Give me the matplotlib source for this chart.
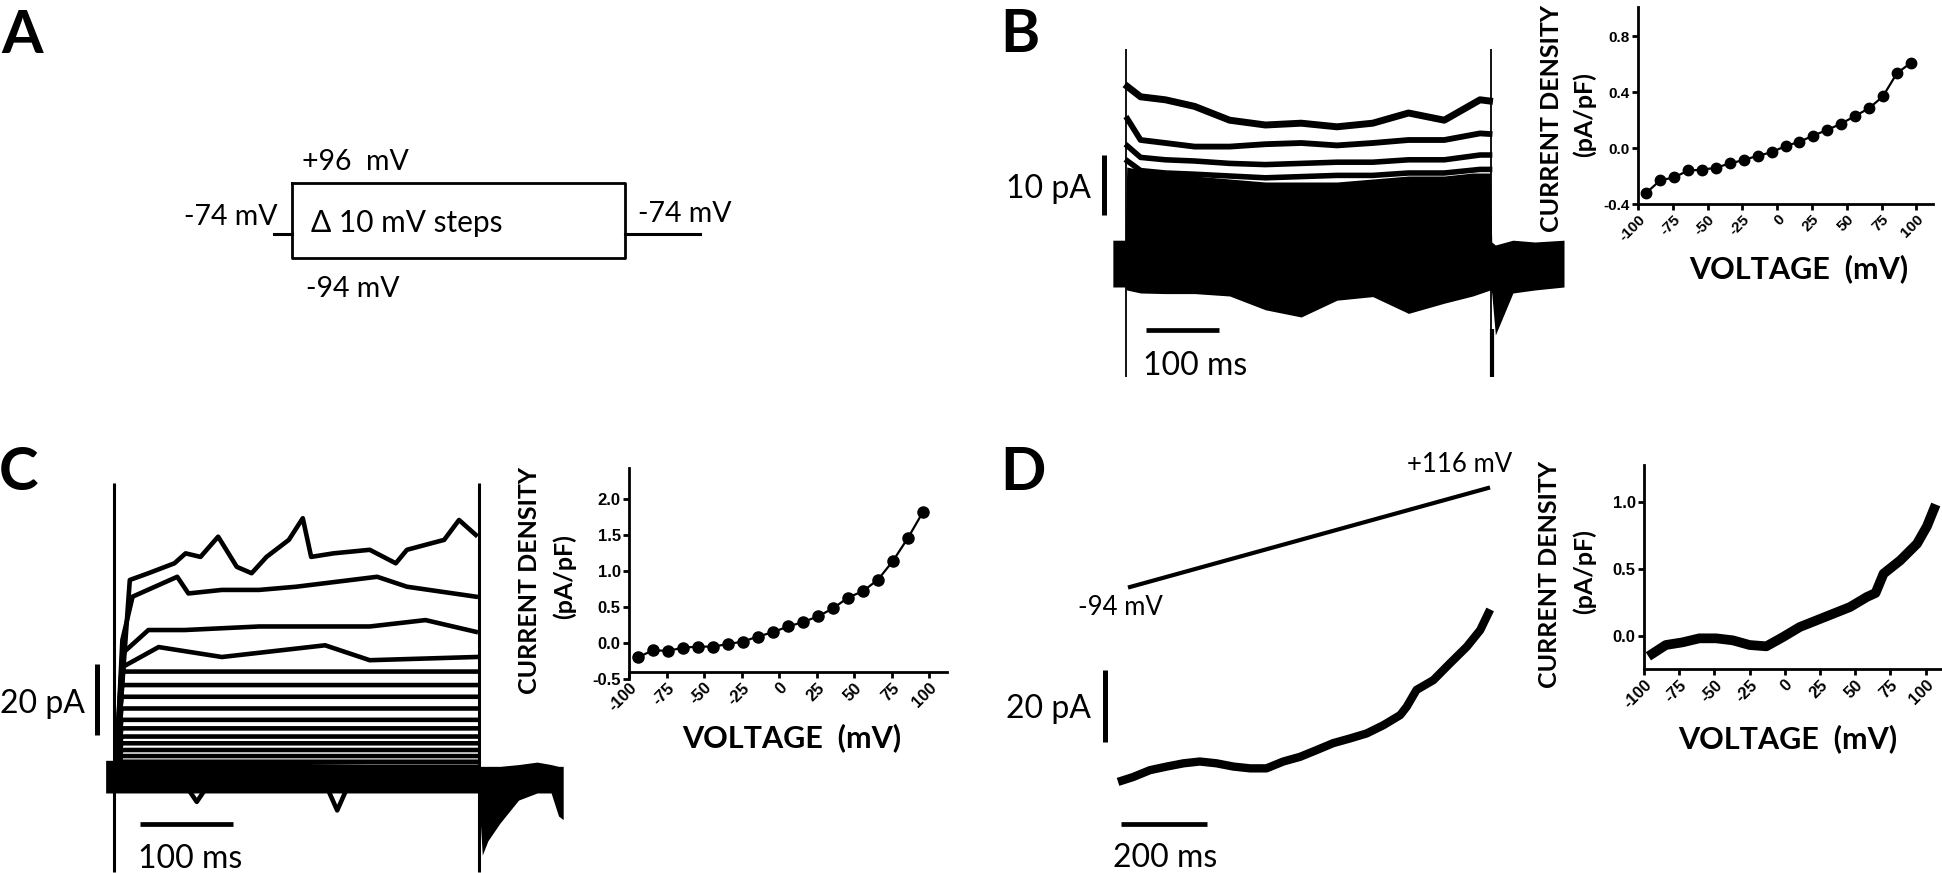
import matplotlib.pyplot as plt
from matplotlib.ticker import FormatStrFormatter

plt.rcParams['font.family'] = ['Lato', 'DejaVu Sans']

# ---------------- data ----------------
# I-V relations from the 10 mV step protocol (panels B and C)
step_mv = [-94, -84, -74, -64, -54, -44, -34, -24, -14, -4, 6, 16, 26, 36, 46, 56, 66, 76, 86, 96]
iv_b = [-0.32, -0.23, -0.21, -0.16, -0.155, -0.14, -0.11, -0.085, -0.055, -0.03,
        0.015, 0.045, 0.09, 0.13, 0.175, 0.23, 0.285, 0.37, 0.535, 0.61]
iv_c = [-0.20, -0.10, -0.11, -0.065, -0.05, -0.05, -0.015, 0.02, 0.09, 0.15,
        0.23, 0.29, 0.37, 0.48, 0.63, 0.72, 0.88, 1.14, 1.46, 1.82]

# I-V from the ramp (panel D)
ramp_mv = [-94, -84.5, -72.6, -60.7, -48.8, -36.9, -25, -13.1, -1.2, 10.7, 22.6, 34.5,
           46.4, 58.3, 64.5, 70.2, 82.1, 94, 101, 106]
ramp_dens = [-0.135, -0.07, -0.05, -0.02, -0.02, -0.035, -0.07, -0.08, -0.01, 0.065, 0.115, 0.165,
             0.215, 0.29, 0.32, 0.465, 0.565, 0.69, 0.82, 0.95]

# panel B current sweeps (ms, pA)
b_env_t = [-18, -1, 1, 20, 54, 94, 142, 191, 240, 289, 338, 387, 436, 475, 499, 501, 506, 530, 560, 600]
b_env_hi = [3.8, 3.8, 16, 15.5, 15, 14.5, 14, 13.5, 13.5, 13.5, 14, 14.5, 14.5, 15, 15, 3.5, 3.0, 3.8, 3.5, 3.8]
b_env_lo = [-4, -4, -4.5, -5, -5.1, -5.1, -5.5, -7.8, -9, -6.2, -5.6, -8.4, -6.7, -5.5, -4.5, -5, -12, -5, -4.5, -4]
b_t = [2, 20, 54, 94, 142, 191, 240, 289, 338, 387, 436, 485, 498]
b_sweep1 = [29.4, 27.7, 27.2, 26.1, 23.8, 23.0, 23.3, 22.7, 23.3, 25.0, 23.8, 27.2, 27.0]
b_sweep2 = [24.0, 20.5, 20.0, 19.4, 19.4, 19.8, 20.0, 19.6, 20.0, 20.5, 20.5, 21.6, 21.5]
b_sweep3 = [19.5, 17.6, 17.2, 17.0, 16.6, 16.4, 16.6, 16.8, 16.8, 17.2, 17.2, 18.0, 18.0]
b_sweep4 = [17.0, 15.4, 15.0, 14.8, 14.5, 14.2, 14.4, 14.6, 14.6, 15.0, 15.0, 15.6, 15.6]
b_step_end = 500

# panel C current sweeps (ms, pA)
c_flat_levels = [-1.3, 0, 1.5, 2.9, 4.3, 5.9, 7.6, 9.5, 11.4, 13.7, 16.1, 19.3, 22.6, 25.9, 29.7]
c_low_t = [1, 8, 80, 89, 98, 230, 240, 250, 390]
c_low_i = [0, -3.2, -3.5, -7.0, -3.5, -3.5, -9.4, -3.5, -3.2]
c_top_t = [2, 17, 37, 65, 77, 93, 112, 132, 148, 164, 188, 203, 212, 236, 275, 303, 315, 355, 371, 389]
c_top_i = [1, 55.5, 57.4, 60.2, 63, 62, 67.7, 59.2, 57.4, 62, 66.8, 72.9, 62, 63, 64, 60.2, 64, 66.8, 72.4, 68.2]
c_s19_t = [2, 9, 20, 44, 68, 80, 116, 156, 196, 283, 315, 389]
c_s19_i = [1, 38.6, 50.8, 53.6, 56.4, 51.7, 52.7, 52.7, 53.6, 56.4, 53.6, 50.8]
c_s18_t = [2, 9, 37, 76, 156, 275, 335, 389]
c_s18_i = [1, 34.8, 41.4, 41.4, 42.4, 42.4, 44.2, 40.9]
c_s17_t = [2, 10, 48, 116, 227, 275, 389]
c_s17_i = [1, 31.1, 36.6, 33.8, 37.1, 32.9, 33.8]
c_env_t = [-9, 0, 392, 396, 402, 415, 435, 455, 470, 478, 483]
c_env_hi = [4.7, 4.7, 3.0, 3.0, 3.0, 3.0, 3.5, 4.2, 3.5, 3.0, 3.0]
c_env_lo = [-4.5, -4.5, -4.5, -22, -18, -13, -6.5, -4.5, -4.5, -11, -12]
c_step_end = 392

# panel D ramp protocol and current
ramp_t = [0, 850]
ramp_v = [-94, 116]
d_t = [0, 26, 65, 104, 143, 181, 220, 259, 298, 336, 375, 414, 453, 491, 530, 569, 608, 647, 662,
       685, 724, 763, 802, 833, 852]
d_i = [-1, 0, 1.9, 2.9, 3.8, 4.3, 3.8, 2.9, 2.4, 2.4, 4.3, 5.6, 7.5, 9.4, 10.7, 12.1, 14.4, 17.2,
       19.5, 24.2, 26.9, 31.6, 36.2, 40.8, 45.5]

# ---------------- layout helpers (pixel boxes) ----------------
W, H = 1942, 873
fig = plt.figure(figsize=(W / 100, H / 100), dpi=100)


def box(x0, y0, x1, y1):
    return [x0 / W, 1 - y1 / H, (x1 - x0) / W, (y1 - y0) / H]


def trace_axes(x0, y0, x1, y1, xp0, sx, yp0, sy):
    # axes whose data units map to pixels: x_px = xp0 + t*sx, y_px = yp0 - i*sy
    ax = fig.add_axes(box(x0, y0, x1, y1))
    ax.set_xlim((x0 - xp0) / sx, (x1 - xp0) / sx)
    ax.set_ylim((yp0 - y1) / sy, (yp0 - y0) / sy)
    ax.axis('off')
    return ax


def iv_axes(x0, y0, x1, y1, xlim, ylim, yticks, xaxis_at, fs):
    ax = fig.add_axes(box(x0, y0, x1, y1))
    ax.set_xlim(xlim)
    ax.set_ylim(ylim)
    ax.patch.set_alpha(0)
    for s in ['top', 'right']:
        ax.spines[s].set_visible(False)
    for s in ['left', 'bottom']:
        ax.spines[s].set_linewidth(2)
    ax.spines['bottom'].set_position(('data', xaxis_at))
    ax.set_xticks(list(range(-100, 101, 25)))
    ax.set_xticklabels([str(v) for v in range(-100, 101, 25)], rotation=45,
                       ha='right', va='top', rotation_mode='anchor')
    ax.set_yticks(yticks)
    ax.yaxis.set_major_formatter(FormatStrFormatter('%.1f'))
    ax.tick_params(width=2, length=4, labelsize=fs, pad=2)
    for lab in ax.get_xticklabels() + ax.get_yticklabels():
        lab.set_fontweight('bold')
        lab.set_family(['Liberation Sans', 'DejaVu Sans'])
    return ax


# ---------------- B: traces ----------------
axb = trace_axes(1095, 40, 1575, 390, 1126, 0.73, 263, 6.0)
axb.fill_between(b_env_t, b_env_lo, b_env_hi, color='black', lw=0)
for sw, lw in [(b_sweep1, 5.0), (b_sweep2, 4.2), (b_sweep3, 4.0), (b_sweep4, 4.0)]:
    axb.plot(b_t, sw, color='black', lw=lw, solid_joinstyle='round')
axb.vlines(0, -19, 35.7, color='black', lw=1.3)
axb.vlines(b_step_end, -19, 35.7, color='black', lw=1.3)
axb.vlines(b_step_end + 2, -19, -11, color='black', lw=3)
axb.plot([-30, -30], [8, 18], color='black', lw=3.6, solid_capstyle='butt')
axb.plot([27, 127], [-11.2, -11.2], color='black', lw=3.4, solid_capstyle='butt')

# ---------------- C: traces ----------------
axc = trace_axes(75, 470, 575, 873, 114, 0.93, 777, 3.55)
axc.fill_between(c_env_t, c_env_lo, c_env_hi, color='black', lw=0)
for lev in c_flat_levels:
    axc.plot([1, 8, c_step_end - 2], [0, lev, lev], color='black', lw=3.3)
axc.plot(c_low_t, c_low_i, color='black', lw=3.3)
for tt, ii in [(c_s17_t, c_s17_i), (c_s18_t, c_s18_i), (c_s19_t, c_s19_i), (c_top_t, c_top_i)]:
    axc.plot(tt, ii, color='black', lw=3.3, solid_joinstyle='round')
axc.vlines(0, -26.8, 82.8, color='black', lw=2.2)
axc.vlines(c_step_end, -26.8, 82.8, color='black', lw=2.2)
axc.plot([-18.3, -18.3], [11.8, 31.8], color='black', lw=3.6, solid_capstyle='butt')
axc.plot([28, 128], [-13.2, -13.2], color='black', lw=3.4, solid_capstyle='butt')

# ---------------- D: ramp protocol and current ----------------
axp = trace_axes(1100, 460, 1520, 600, 1130, 0.4212, 542.7, 0.4714)
axp.plot(ramp_t, ramp_v, color='black', lw=3)

axd = trace_axes(1085, 600, 1520, 873, 1122, 0.43, 777, 3.6)
axd.plot(d_t, d_i, color='black', lw=6, solid_joinstyle='round')
axd.plot([-39.5, -39.5], [9.7, 29.7], color='black', lw=3.6, solid_capstyle='butt')
axd.plot([-2.3, 197.7], [-13, -13], color='black', lw=3.4, solid_capstyle='butt')

# ---------------- I-V plots ----------------
ax_ivb = iv_axes(1638, 7, 1933, 204, (-100, 112), (-0.4, 1.01), [-0.4, 0.0, 0.4, 0.8], -0.4, 11)
ax_ivb.plot(step_mv, iv_b, color='black', lw=1.6, marker='o', ms=7.5)

ax_ivc = iv_axes(629, 468, 947, 679, (-100, 112), (-0.5, 2.43), [-0.5, 0.0, 0.5, 1.0, 1.5, 2.0], -0.4, 12)
ax_ivc.plot(step_mv, iv_c, color='black', lw=1.6, marker='o', ms=8)

ax_ivd = iv_axes(1644, 465, 1941, 669, (-100, 111), (-0.25, 1.28), [0.0, 0.5, 1.0], -0.25, 12)
ax_ivd.plot(ramp_mv, ramp_dens, color='black', lw=7, solid_joinstyle='round')

# ---------------- overlay: schematic and labels in pixels ----------------
ov = fig.add_axes([0, 0, 1, 1])
ov.set_xlim(0, W)
ov.set_ylim(H, 0)
ov.axis('off')

# A: step protocol schematic
ov.plot([292, 625, 625, 292, 292], [183, 183, 258, 258, 183], color='black', lw=2)
ov.plot([274, 292], [234, 234], color='black', lw=2.2)
ov.plot([625, 700], [234, 234], color='black', lw=2.2)


def txt(x, y, s, size, ha='left', weight='normal', rot=0, fam=None):
    kw = {}
    if fam:
        kw['family'] = fam
    ov.text(x, y, s, fontsize=size, ha=ha, va='baseline', fontweight=weight,
            rotation=rot, rotation_mode='anchor', **kw)


for lab, x, y in [('A', 1, 53), ('B', 1000, 52), ('C', -1, 490), ('D', 1000, 490)]:
    txt(x, y, lab, 43, weight='bold')

txt(302, 170, '+96  mV', 20.5)
txt(184, 225, '-74 mV', 20.5)
txt(311, 232, 'Δ 10 mV steps', 21.5)
txt(638, 222, '-74 mV', 20.5)
txt(306, 297, '-94 mV', 20.5)

txt(1091, 198, '10 pA', 23, ha='right')
txt(1195, 375, '100 ms', 23, ha='center')
txt(85, 713, '20 pA', 23, ha='right')
txt(190, 868, '100 ms', 23, ha='center')
txt(1091, 718, '20 pA', 23, ha='right')
txt(1165, 867, '200 ms', 23, ha='center')
txt(1078, 615, '-94 mV', 18.5)
txt(1512, 472, '+116 mV', 18.5, ha='right')

for cx, cy, x1, x2, ly in [(1799, 278, 1559, 1592, 118), (792, 747, 537, 572, 580), (1788, 748, 1557, 1592, 575)]:
    txt(cx, cy, 'VOLTAGE  (mV)', 22, ha='center', weight='bold')
    txt(x1, ly, 'CURRENT DENSITY', 18, ha='center', weight='bold', rot=90)
    txt(x2, ly - 3, '(pA/pF)', 18, ha='center', weight='bold', rot=90)

fig.savefig('out.png', dpi=100)
